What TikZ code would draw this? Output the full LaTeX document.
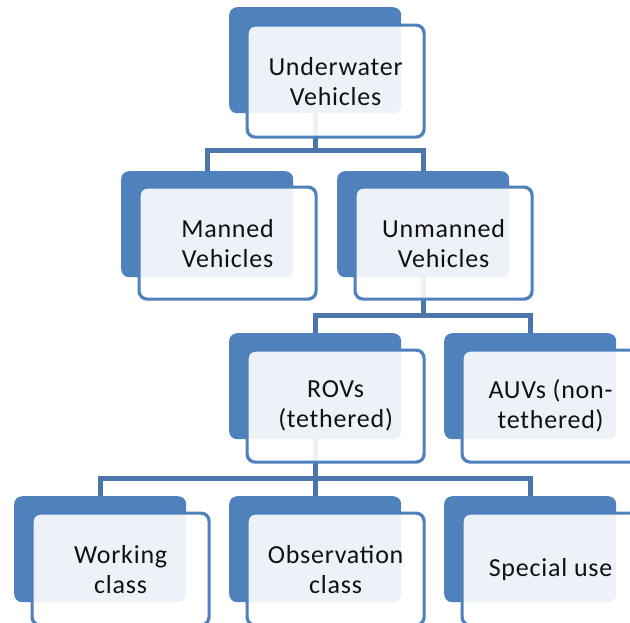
\documentclass[tikz,border=0pt]{standalone}
\usepackage{fontspec}
\setmainfont{Carlito}[LetterSpace=3]
\definecolor{bluefill}{HTML}{4F81BD}
\definecolor{connblue}{HTML}{4A76AC}
\definecolor{textgray}{HTML}{111111}
\tikzset{
  backbox/.style={fill=bluefill, draw=none, rounded corners=8pt, minimum width=172pt, minimum height=106pt, inner sep=0pt, anchor=north west},
  frontbox/.style={fill=white, fill opacity=0.9, text opacity=1, text=textgray, draw=bluefill, line width=3.2pt, rounded corners=8pt, minimum width=177pt, minimum height=112pt, inner sep=0pt, anchor=north west, align=center, font=\fontsize{26}{30}\selectfont},
  conn/.style={draw=connblue, line width=5pt}
}
\begin{document}
\begin{tikzpicture}[x=1pt,y=-1pt]
\useasboundingbox (0,0) rectangle (630,622);
\fill[white] (0,0) rectangle (630,622);
\clip (0,0) rectangle (630,622);
% back boxes
\node[backbox] (uwb)  at (229,7) {};
\node[backbox] (manb) at (121,171) {};
\node[backbox] (unmb) at (337,171) {};
\node[backbox] (rovb) at (229,333) {};
\node[backbox] (auvb) at (444,333) {};
\node[backbox] (wrkb) at (14,496) {};
\node[backbox] (obsb) at (229,496) {};
\node[backbox] (spcb) at (444,496) {};
% connectors
\draw[conn] (uwb.south) -- ++(0,37) -| (manb.north);
\draw[conn] (uwb.south) -- ++(0,37) -| (unmb.north);
\draw[conn] (unmb.south) -- ++(0,38) -| (rovb.north);
\draw[conn] (unmb.south) -- ++(0,38) -| (auvb.north);
\draw[conn] (rovb.south) -- ++(0,39) -| (wrkb.north);
\draw[conn] (rovb.south) -- ++(0,39) -| (obsb.north);
\draw[conn] (rovb.south) -- ++(0,39) -| (spcb.north);
% front boxes
\node[frontbox] (uw)  at (245.5,23.5) {Underwater\\Vehicles};
\node[frontbox] (man) at (137.5,185.5) {Manned\\Vehicles};
\node[frontbox] (unm) at (353.5,185.5) {Unmanned\\Vehicles};
\node[frontbox] (rov) at (245.5,348.5) {ROVs\\(tethered)};
\node[frontbox] (auv) at (460.5,348.5) {AUVs (non-\\tethered)};
\node[frontbox] (wrk) at (30.5,511.5) {Working\\class};
\node[frontbox] (obs) at (245.5,511.5) {Observation\\class};
\node[frontbox] (spc) at (460.5,511.5) {Special use};
\end{tikzpicture}
\end{document}
